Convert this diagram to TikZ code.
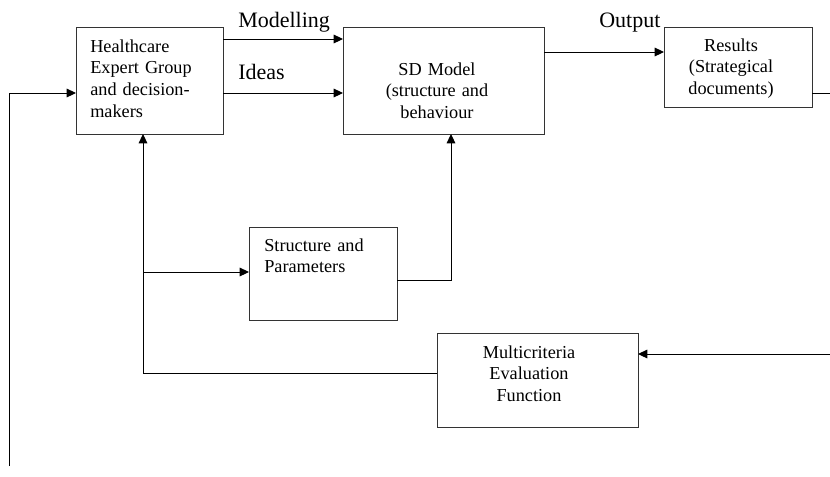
\documentclass[tikz,border=0pt]{standalone}
\usepackage{fontspec}
\setmainfont{Liberation Serif}
\usetikzlibrary{arrows.meta}
\begin{document}
\begin{tikzpicture}[x=0.75pt,y=-0.75pt,
  box/.style={draw=black!80, line width=0.75pt, inner sep=0pt, outer sep=0pt},
  btext/.style={inner sep=0pt, font=\fontsize{13.7}{16.3}\selectfont},
  lab/.style={inner sep=0pt, anchor=base west, font=\fontsize{16.5}{20}\selectfont},
  line/.style={line width=0.75pt, black},
  conn/.style={line, -{Triangle[length=7pt,width=6.5pt]}}]
\useasboundingbox (0,0) rectangle (830,476);

% boxes
\node[box, minimum width=110.25pt, minimum height=80.25pt] (hc) at (149.5,80.5) {};
\node[box, minimum width=150.75pt, minimum height=80.25pt] (sd) at (443.5,80.5) {};
\node[box, minimum width=111pt, minimum height=60pt] (res) at (738,67) {};
\node[box, minimum width=111pt, minimum height=69.75pt] (sp) at (323,273.5) {};
\node[box, minimum width=150.75pt, minimum height=70.5pt] (mc) at (537.5,380) {};

% texts
\node[btext, text width=78pt, align=left, anchor=base west] (hct) at (90,52)
  {Healthcare\\\makebox[78pt][s]{Expert Group}\\\makebox[78pt][s]{and decision-}\\makers};
\node[btext, text width=120pt, align=center, anchor=base] (sdt) at (437,75)
  {SD Model\\(structure and\\behaviour};
\node[btext, text width=100pt, align=center, anchor=base] (rest) at (731,51)
  {Results\\(Strategical\\documents)};
\node[btext, text width=78pt, align=left, anchor=base west] (spt) at (264,251)
  {\makebox[78pt][s]{Structure and}\\Parameters};
\node[btext, text width=120pt, align=center, anchor=base] (mct) at (529,358)
  {Multicriteria\\Evaluation\\Function};

% labels
\node[lab] (lm) at (238,27) {Modelling};
\node[lab] (li) at (238,79) {Ideas};
\node[lab] (lo) at (599,27) {Output};

% connectors
\coordinate (ym) at (0,39);
\coordinate (yi) at (0,93);
\coordinate (yo) at (0,52);
\draw[conn] (hc.east |- ym) -- (sd.west |- ym);
\draw[conn] (hc.east |- yi) -- (sd.west |- yi);
\draw[conn] (sd.east |- yo) -- (res.west |- yo);
\coordinate (rr) at (830,93);
\draw[line] (res.east |- rr) -- (rr);
\coordinate (lb) at (9,466);
\draw[conn] (lb) |- (hc.west |- yi);
\coordinate (re) at (830,354);
\draw[conn] (re) -- (mc.east |- re);
\coordinate (fb) at (143,373);
\draw[conn] (mc.west |- fb) -- (fb) -- (fb |- hc.south);
\coordinate (br) at (143,272);
\draw[conn] (br) -- (sp.west |- br);
\coordinate (sc) at (451,280);
\draw[conn] (sp.east |- sc) -- (sc) -- (sc |- sd.south);
\end{tikzpicture}
\end{document}
